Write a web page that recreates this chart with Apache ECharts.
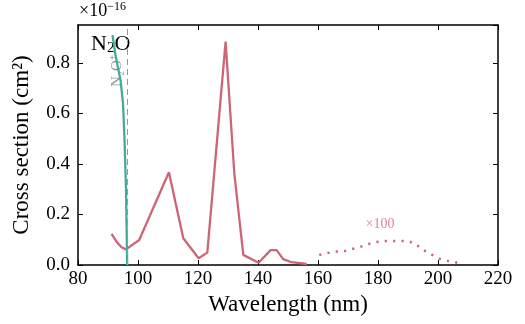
<!DOCTYPE html>
<html><head><meta charset="utf-8">
<script src="https://cdn.jsdelivr.net/npm/echarts@6/dist/echarts.min.js"></script>
<style>html,body{margin:0;padding:0;background:#fff}#c{width:525px;height:324px}</style>
</head><body><div id="c"></div>
<script>
// Data (wavelength nm, cross section in 1e-16 cm^2)
const totalWl =   [91.2, 93, 94.5, 96, 100.4, 110.3, 115.1, 120.2, 123.1, 129.2, 132.1, 135.1, 140.2, 144.2, 146.2, 148.4, 151.2, 156.2];
const totalXs =   [0.123, 0.09, 0.07, 0.062, 0.099, 0.367, 0.106, 0.027, 0.049, 0.884, 0.363, 0.04, 0.009, 0.059, 0.059, 0.023, 0.011, 0.004];
const ionWl =     [91.5, 92.5, 93.0, 93.6, 94.2, 95.0, 95.5, 96.0, 96.4];
const ionXs =     [0.91, 0.83, 0.80, 0.80, 0.73, 0.64, 0.50, 0.30, 0.0];
const x100Wl =    [160.4, 163.4, 166.2, 168.8, 171.4, 174, 176.8, 179.6, 182.2, 184.9, 187.7, 190.4, 192.9, 195.1, 197.9, 200.7, 203.1, 205.6, 208];
const x100Xs =    [0.040, 0.048, 0.053, 0.055, 0.063, 0.071, 0.083, 0.091, 0.095, 0.095, 0.095, 0.094, 0.079, 0.059, 0.041, 0.024, 0.017, 0.011, 0.004];
const thresholdWl = 96.3;
const xTicks = [80, 100, 120, 140, 160, 180, 200, 220];
const yTicks = [0.0, 0.2, 0.4, 0.6, 0.8];

const FONT = 'Liberation Serif';
const ROSE = '#CC6677', TEAL = '#44AA99';
const chart = echarts.init(document.getElementById('c'));
const pair = (a, b) => a.map((v, i) => [v, b[i]]);
const axisBase = {
  axisLine: {show: true, onZero: false, lineStyle: {color: '#000', width: 1.5}},
  axisTick: {show: true, inside: true, length: 5, lineStyle: {color: '#000', width: 1}},
  splitLine: {show: false}
};
chart.setOption({
  animation: false,
  grid: {left: 78, right: 27, top: 25, bottom: 59, containLabel: false, outerBoundsMode: 'none'},
  xAxis: [
    Object.assign({}, axisBase, {type: 'value', min: 80, max: 220, interval: 20, position: 'bottom',
      name: 'Wavelength (nm)', nameLocation: 'middle', nameGap: 28,
      nameTextStyle: {fontFamily: FONT, fontSize: 23, color: '#000'},
      axisLabel: {fontFamily: FONT, fontSize: 19, color: '#000', margin: 5,
        formatter: v => xTicks.includes(v) ? String(v) : ''}}),
    Object.assign({}, axisBase, {type: 'value', min: 80, max: 220, interval: 20, position: 'top', axisLabel: {show: false}})
  ],
  yAxis: [
    Object.assign({}, axisBase, {type: 'value', min: 0, max: 0.95, interval: 0.2, position: 'left',
      name: 'Cross section (cm²)', nameLocation: 'middle', nameGap: 45, nameRotate: 90,
      nameTextStyle: {fontFamily: FONT, fontSize: 23, color: '#000'},
      axisLabel: {fontFamily: FONT, fontSize: 19, color: '#000', margin: 8, showMaxLabel: false,
        formatter: v => yTicks.some(t => Math.abs(t - v) < 1e-9) ? v.toFixed(1) : ''}}),
    Object.assign({}, axisBase, {type: 'value', min: 0, max: 0.95, interval: 0.2, position: 'right', axisLabel: {show: false}})
  ],
  series: [
    {type: 'line', data: pair(totalWl, totalXs), showSymbol: false, lineStyle: {color: ROSE, width: 2.3}, z: 3},
    {type: 'line', data: pair(ionWl, ionXs), showSymbol: false, lineStyle: {color: TEAL, width: 2.3}, z: 4,
      markLine: {silent: true, symbol: ['none', 'none'], label: {show: false},
        lineStyle: {color: '#999', type: [6, 4], width: 1}, data: [{xAxis: thresholdWl}]}},
    {type: 'line', data: pair(x100Wl, x100Xs), showSymbol: false, lineStyle: {color: ROSE, width: 2.5, type: [2.2, 6.2], cap: 'butt'}, z: 3}
  ],
  graphic: [
    {type: 'text', left: 79, top: 1, style: {text: '×10{s|−16}', fontFamily: FONT, fontSize: 18, fill: '#000',
      rich: {s: {fontSize: 12, fontFamily: FONT, fill: '#000', verticalAlign: 'top', padding: [0, 0, 8, 0]}}}},
    {type: 'text', left: 91, top: 33, style: {text: 'N{s|2}O', fontFamily: FONT, fontSize: 22, fill: '#000',
      rich: {s: {fontSize: 15, fontFamily: FONT, fill: '#000', verticalAlign: 'bottom', padding: [9, 0, 0, 0]}}}},
    {type: 'text', x: 117, y: 71, rotation: Math.PI / 2, style: {text: 'N₂O⁺', fontFamily: FONT, fontSize: 15, fill: '#999', align: 'center', verticalAlign: 'middle'}},
    {type: 'text', x: 380, y: 224, style: {text: '×100', fontFamily: FONT, fontSize: 14, fill: '#DD8899', align: 'center', verticalAlign: 'middle'}}
  ]
});
</script></body></html>
